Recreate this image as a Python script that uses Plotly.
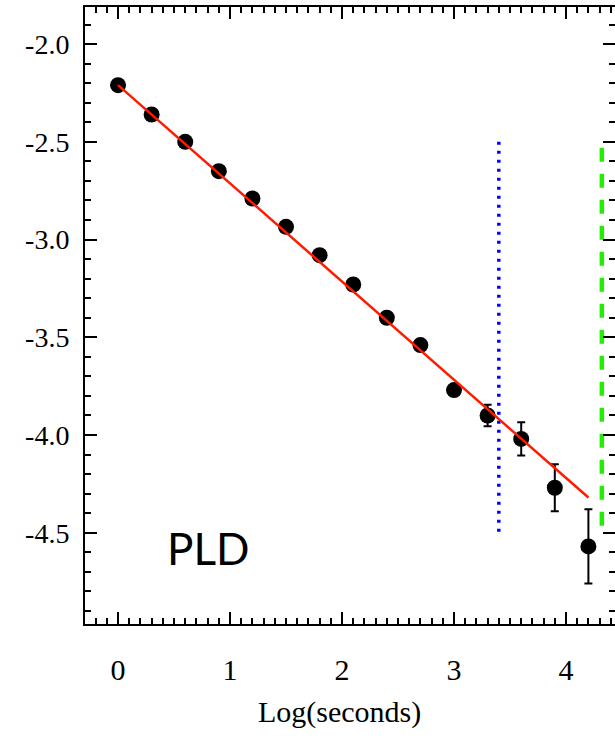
import plotly.graph_objects as go

# Data
log_t = [0.0, 0.3, 0.6, 0.9, 1.2, 1.5, 1.8, 2.1, 2.4, 2.7, 3.0, 3.3, 3.6, 3.9, 4.2]
log_val = [-2.21, -2.36, -2.50, -2.65, -2.79, -2.935, -3.08, -3.23, -3.40, -3.54,
           -3.77, -3.90, -4.02, -4.27, -4.57]
log_err = [0.01, 0.01, 0.01, 0.01, 0.01, 0.01, 0.01, 0.01, 0.01, 0.015,
           0.03, 0.055, 0.085, 0.12, 0.19]

fit_x = [0.0, 4.2]
fit_y = [-2.21, -4.32]

blue_x = [3.4, 3.4]
blue_y = [-2.5, -4.5]

green_x = [4.32, 4.32]
green_y = [-2.53, -4.5]

x_tickvals = [0, 1, 2, 3, 4]
x_ticktext = ["0", "1", "2", "3", "4"]
y_tickvals = [-2.0, -2.5, -3.0, -3.5, -4.0, -4.5]
y_ticktext = ["-2.0", "-2.5", "-3.0", "-3.5", "-4.0", "-4.5"]

fig = go.Figure()

fig.add_trace(go.Scatter(
    x=blue_x, y=blue_y, mode="lines",
    line=dict(color="#0000ff", width=3.5, dash="3px,6px"),
    showlegend=False, hoverinfo="skip"))

fig.add_trace(go.Scatter(
    x=green_x, y=green_y, mode="lines",
    line=dict(color="#22ee00", width=4.5, dash="14px,12px"),
    showlegend=False, hoverinfo="skip"))

fig.add_trace(go.Scatter(
    x=log_t, y=log_val, mode="markers",
    marker=dict(color="black", size=16),
    error_y=dict(type="data", array=log_err, visible=True,
                 color="black", thickness=2, width=4),
    showlegend=False))

fig.add_trace(go.Scatter(
    x=fit_x, y=fit_y, mode="lines",
    line=dict(color="#ff1a00", width=2.5),
    showlegend=False, hoverinfo="skip"))

fig.add_annotation(x=0.42, y=-4.578, xref="x", yref="y", text="PLD",
                   showarrow=False, xanchor="left", yanchor="middle",
                   font=dict(family="Lato", size=44, color="black"))

fig.add_annotation(x=0.481, y=-0.1426, xref="paper", yref="paper",
                   text="Log(seconds)", showarrow=False,
                   xanchor="center", yanchor="middle",
                   font=dict(family="Liberation Serif", size=30, color="black"))

fig.update_layout(
    width=615, height=738,
    margin=dict(l=85, r=0, t=7, b=114),
    paper_bgcolor="white", plot_bgcolor="white",
    xaxis=dict(
        range=[-0.295, 4.4375], automargin=False,
        tickvals=x_tickvals, ticktext=x_ticktext,
        ticks="inside", ticklen=12, tickwidth=2, tickcolor="black",
        showline=True, linewidth=2, linecolor="black", mirror="ticks",
        showgrid=False, zeroline=False,
        ticklabelstandoff=18,
        tickfont=dict(family="Liberation Serif", size=30, color="black"),
        minor=dict(dtick=0.1, tick0=0, ticks="inside", ticklen=6,
                   tickwidth=1.5, tickcolor="black", showgrid=False),
    ),
    yaxis=dict(
        range=[-4.967, -1.81], automargin=False,
        tickvals=y_tickvals, ticktext=y_ticktext,
        ticks="inside", ticklen=12, tickwidth=2, tickcolor="black",
        showline=True, linewidth=2, linecolor="black", mirror="ticks",
        showgrid=False, zeroline=False,
        ticklabelstandoff=8,
        tickfont=dict(family="Liberation Serif", size=28, color="black"),
        minor=dict(dtick=0.1, tick0=0, ticks="inside", ticklen=6,
                   tickwidth=1.5, tickcolor="black", showgrid=False),
    ),
)

fig.write_html(
    "out.html",
    config={"displayModeBar": False},
    post_script="document.body.style.margin='0';document.body.style.overflow='hidden';",
)
